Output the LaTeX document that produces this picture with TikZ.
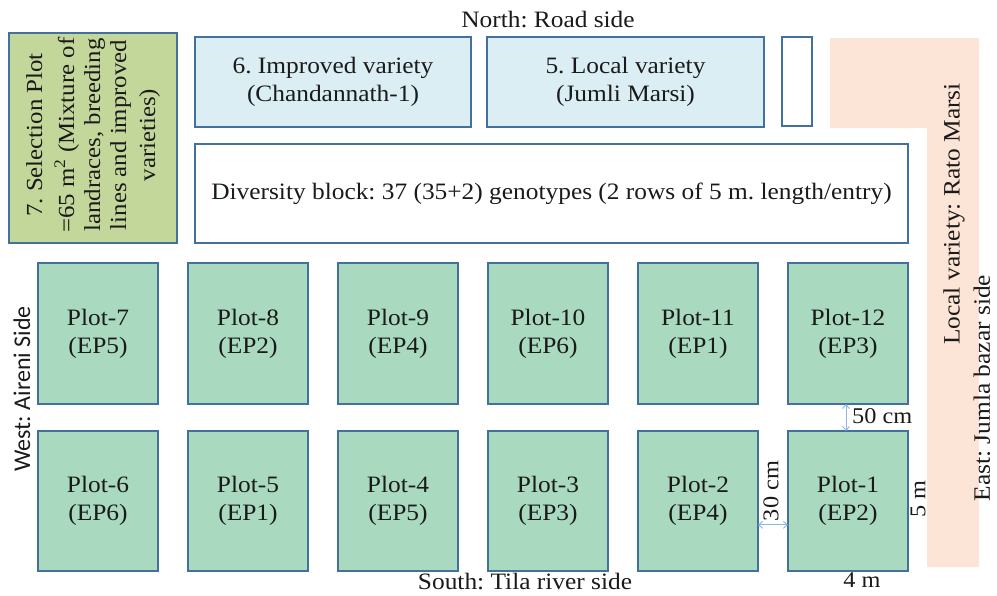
\documentclass[tikz,border=0pt]{standalone}
\usepackage{fontspec}
\setmainfont{Liberation Serif}[FakeStretch=1.08]
\newfontfamily\westfont{Carlito}
\usetikzlibrary{arrows.meta,calc}
\frenchspacing
\definecolor{edgec}{HTML}{41719C}
\definecolor{plotc}{HTML}{A9D9BF}
\definecolor{bluec}{HTML}{DAEEF3}
\definecolor{selc}{HTML}{C4D79B}
\definecolor{orangec}{HTML}{FCE4D6}
\definecolor{arrowc}{HTML}{8EB4E3}
\definecolor{textc}{HTML}{1A1A1A}
\tikzset{
  basebox/.style={draw=edgec, line width=1.4pt, rectangle, inner sep=0pt, outer sep=0pt, align=center, text=textc,
    font=\fontsize{23.5}{28}\selectfont},
  plotbox/.style={basebox, fill=plotc, minimum width=120pt, minimum height=141pt},
  varbox/.style={basebox, fill=bluec, minimum width=276pt, minimum height=90pt},
  dimarrow/.style={draw=arrowc, line width=0.9pt, {Straight Barb[length=4pt,width=7pt]}-{Straight Barb[length=4pt,width=7pt]}},
  lbl/.style={inner sep=0pt, text=textc, font=\fontsize{23.5}{28}\selectfont},
  dimlbl/.style={inner sep=0pt, text=textc, font=\fontsize{22.5}{26}\selectfont}
}
\begin{document}
\begin{tikzpicture}[x=1pt,y=-1pt]
\useasboundingbox (0,0) rectangle (997,595);
% orange L
\fill[orangec] (830,38) -- (979,38) -- (979,567) -- (927,567) -- (927,128) -- (830,128) -- cycle;
% top boxes
\node[basebox, fill=selc, minimum width=168pt, minimum height=210pt] (sel) at (93,138) {};
\node[lbl, rotate=90, align=center, font=\fontsize{23}{26}\selectfont] (seltext) at ($(sel.center)+(0,-3)$)
  {7. Selection Plot\\[6pt] =65 m\textsuperscript{2} (Mixture of\\ landraces, breeding\\ lines and improved\\[3pt] varieties)};
\node[varbox] (v6) at (333,82) {6. Improved variety\\(Chandannath-1)};
\node[varbox, minimum width=277pt] (v5) at (625.5,82) {5. Local variety\\(Jumli Marsi)};
\node[basebox, fill=white, minimum width=30pt, minimum height=89pt] (small) at (797,81.5) {};
\node[basebox, fill=white, minimum width=713pt, minimum height=99pt] (div) at (551.5,193.5)
  {Diversity block: 37 (35+2) genotypes (2 rows of 5 m. length/entry)};
% plots top row
\node[plotbox] (p7) at (98,333.5) {Plot-7\\(EP5)};
\node[plotbox] (p8) at (248,333.5) {Plot-8\\(EP2)};
\node[plotbox] (p9) at (398,333.5) {Plot-9\\(EP4)};
\node[plotbox] (p10) at (548,333.5) {Plot-10\\(EP6)};
\node[plotbox] (p11) at (698,333.5) {Plot-11\\(EP1)};
\node[plotbox] (p12) at (848,333.5) {Plot-12\\(EP3)};
% plots bottom row
\node[plotbox, minimum height=140pt] (p6) at (98,501) {Plot-6\\(EP6)};
\node[plotbox, minimum height=140pt] (p5) at (248,501) {Plot-5\\(EP1)};
\node[plotbox, minimum height=140pt] (p4) at (398,501) {Plot-4\\(EP5)};
\node[plotbox, minimum height=140pt] (p3) at (548,501) {Plot-3\\(EP3)};
\node[plotbox, minimum height=140pt] (p2) at (698,501) {Plot-2\\(EP4)};
\node[plotbox, minimum height=140pt] (p1) at (848,501) {Plot-1\\(EP2)};
% dimension arrows
\draw[dimarrow] ($(p12.south)+(-2,0)$) -- ($(p1.north)+(-2,0)$);
\node[dimlbl, anchor=west] (l50) at (852,416) {50 cm};
\draw[dimarrow] ($(p2.south east)!0.33!(p2.north east)$) -- ($(p1.south west)!0.33!(p1.north west)$);
\node[dimlbl, rotate=90] (l30) at (771,491) {30 cm};
\node[dimlbl, rotate=90] (l5) at (918,499) {5 m};
\node[dimlbl] (l4) at (862,580) {4 m};
% side labels
\node[lbl] (north) at (548,20) {North: Road side};
\node[lbl] (south) at (525,582) {South: Tila river side};
\node[lbl, rotate=90, font=\westfont\fontsize{24}{26}\selectfont] (west) at (22,389) {West: Aireni Side};
\node[lbl, rotate=90] (east) at (982,388) {East: Jumla bazar side};
\node[lbl, rotate=90] (rato) at (954,214) {Local variety: Rato Marsi};
\end{tikzpicture}
\end{document}
